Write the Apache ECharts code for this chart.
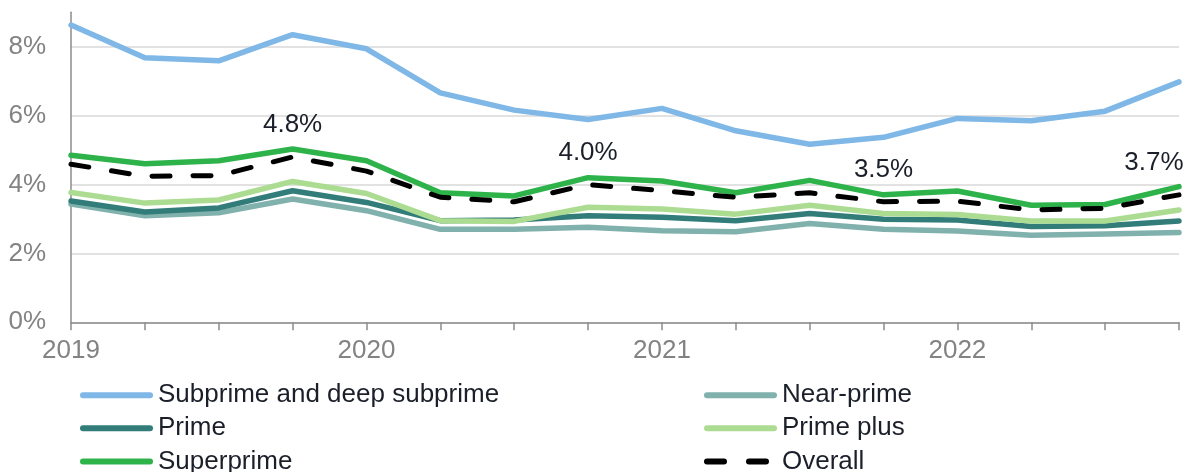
<!DOCTYPE html>
<html>
<head>
<meta charset="utf-8">
<script src="https://cdn.jsdelivr.net/npm/echarts@6/dist/echarts.min.js"></script>
<style>
  html, body { margin: 0; padding: 0; background: #ffffff; }
  #chart { width: 1187px; height: 472px; }
</style>
</head>
<body>
<div id="chart"></div>
<script>
// Quarters 2019 Q1 .. 2022 Q4
const categories = ['2019 Q1','2019 Q2','2019 Q3','2019 Q4','2020 Q1','2020 Q2','2020 Q3','2020 Q4',
                    '2021 Q1','2021 Q2','2021 Q3','2021 Q4','2022 Q1','2022 Q2','2022 Q3','2022 Q4'];
const xTickLabels = ['2019','','','','2020','','','','2021','','','','2022','','',''];

const subprime   = [8.63, 7.68, 7.59, 8.35, 7.94, 6.66, 6.16, 5.89, 6.21, 5.56, 5.17, 5.37, 5.92, 5.85, 6.13, 6.98];
const nearPrime  = [3.43, 3.09, 3.18, 3.58, 3.24, 2.70, 2.70, 2.76, 2.66, 2.63, 2.87, 2.70, 2.65, 2.53, 2.56, 2.61];
const prime      = [3.52, 3.20, 3.32, 3.82, 3.48, 2.95, 2.97, 3.09, 3.05, 2.95, 3.16, 2.99, 2.97, 2.78, 2.80, 2.94];
const primePlus  = [3.77, 3.46, 3.55, 4.09, 3.74, 2.95, 2.93, 3.34, 3.29, 3.14, 3.40, 3.16, 3.13, 2.94, 2.94, 3.26];
const superprime = [4.85, 4.60, 4.69, 5.03, 4.69, 3.76, 3.67, 4.20, 4.10, 3.76, 4.12, 3.70, 3.81, 3.40, 3.42, 3.94];
const overall    = [4.59, 4.24, 4.26, 4.80, 4.39, 3.63, 3.50, 4.00, 3.82, 3.63, 3.76, 3.50, 3.52, 3.26, 3.31, 3.70];
const overallLabelIdx = [3, 7, 11, 15];
const yTickLabels = ['0%','','2%','','4%','','6%','','8%',''];

// legend layout: two columns of three rows
const legendColumns = [
  ['Subprime and deep subprime', 'Prime', 'Superprime'],
  ['Near-prime', 'Prime plus', 'Overall']
];

const textDark = '#1b1f2a';
const greyText = '#838383';
const FONT = 'Arial, "Liberation Sans", sans-serif';

const solidIcon = 'path://M3,0 h67 a3,3 0 0 1 0,6 h-67 a3,3 0 0 1 0,-6 z';
const dashIcon  = 'path://M3,0 h17 a3,3 0 0 1 0,6 h-17 a3,3 0 0 1 0,-6 z M45,0 h17 a3,3 0 0 1 0,6 h-17 a3,3 0 0 1 0,-6 z M73,0 L73,6 L72.99,6 z';

function solid(name, data, color) {
  return {
    name: name, type: 'line', data: data, symbol: 'none', smooth: false,
    clip: false,
    lineStyle: { color: color, width: 5.5, cap: 'round', join: 'round' },
    itemStyle: { color: color },
    emphasis: { disabled: true }
  };
}

const overallData = overall.map((v, i) => {
  if (overallLabelIdx.indexOf(i) >= 0) {
    const item = { value: v, label: { show: true } };
    if (i === overall.length - 1) item.label.offset = [-25, 0];
    return item;
  }
  return v;
});

const colLeft = [80, 704];
const rowTop = [382.2, 415.2, 448.5];
const legends = [];
legendColumns.forEach((names, c) => {
  names.forEach((name, r) => {
    legends.push({
      orient: 'horizontal', left: colLeft[c], top: rowTop[r], padding: 0,
      itemWidth: 73, itemHeight: 6,
      textStyle: { color: textDark, fontSize: 26, fontFamily: FONT },
      data: [{ name: name, icon: name === 'Overall' ? dashIcon : solidIcon }]
    });
  });
});

const chart = echarts.init(document.getElementById('chart'), null, { renderer: 'canvas' });
chart.setOption({
  animation: false,
  backgroundColor: '#ffffff',
  grid: { left: 71, right: 8, top: 12.3, bottom: 149.7, containLabel: false },
  xAxis: {
    type: 'category', data: categories, boundaryGap: false,
    axisLine: { lineStyle: { color: '#8c8c8c', width: 1.5 } },
    axisTick: { show: true, interval: 0, length: 8, lineStyle: { color: '#8c8c8c', width: 1.5 } },
    axisLabel: {
      interval: 0, margin: 16, color: greyText, fontSize: 26, fontFamily: FONT,
      formatter: (v, i) => xTickLabels[i]
    },
    splitLine: { show: false }
  },
  yAxis: {
    type: 'value', min: 0, max: 9, interval: 1,
    axisLine: { show: true, lineStyle: { color: '#8c8c8c', width: 1.5 } },
    axisTick: { show: false },
    axisLabel: {
      margin: 25, color: greyText, fontSize: 26, fontFamily: FONT,
      formatter: (v) => yTickLabels[Math.round(v)] || ''
    },
    splitLine: { show: true, lineStyle: { color: ['#d9d9d9', 'rgba(0,0,0,0)'], width: 1.5 } }
  },
  legend: legends,
  series: [
    solid('Near-prime', nearPrime, '#80b1ad'),
    solid('Prime', prime, '#327d79'),
    solid('Prime plus', primePlus, '#acdc91'),
    solid('Subprime and deep subprime', subprime, '#7fb7e7'),
    solid('Superprime', superprime, '#2eb34b'),
    {
      name: 'Overall', type: 'line', data: overallData,
      symbol: 'circle', symbolSize: 0, showSymbol: true, clip: false,
      lineStyle: { color: '#000000', width: 5, type: [18, 23], cap: 'round', join: 'round' },
      itemStyle: { color: '#000000' },
      label: {
        show: false, position: 'top', distance: 19,
        color: textDark, fontSize: 26, fontFamily: FONT,
        formatter: (p) => Number(p.value).toFixed(1) + '%'
      },
      emphasis: { disabled: true }
    }
  ]
});
</script>
</body>
</html>
